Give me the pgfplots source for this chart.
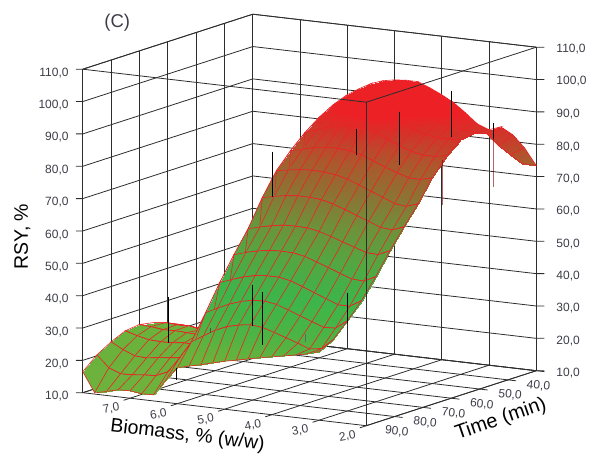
\documentclass[border=0pt]{standalone}
\usepackage{pgfplots}
\pgfplotsset{compat=1.18}
\usepackage{fontspec}
\setmainfont{Liberation Sans}
\definecolor{ticktxt}{RGB}{60,60,72}
\definecolor{gridc}{RGB}{45,45,45}
\definecolor{meshred}{RGB}{235,35,40}
\pgfplotsset{
  rsybox/.style={
    x={(-47.25pt,5.5pt)}, y={(-2.8333pt,-0.9167pt)}, z={(0pt,3.235pt)},
    disabledatascaling,
    anchor=origin, at={(536.3pt,84.3pt)},
    xmin=2, xmax=8, ymin=40, ymax=100, zmin=10, zmax=110,
    clip=false,
    tick align=outside,
    major tick length=7pt,
    every tick/.style={draw=none},
    /pgf/number format/.cd, fixed, fixed zerofill, precision=1, use comma, assume math mode=true,
    /pgfplots/.cd,
  },
  colormap={rsy}{rgb255(10pt)=(110,178,60); rgb255(25pt)=(105,178,60); rgb255(33pt)=(75,180,68); rgb255(42pt)=(60,181,74); rgb255(52pt)=(85,165,65); rgb255(60pt)=(110,145,58); rgb255(68pt)=(140,115,52); rgb255(76pt)=(172,88,45); rgb255(83pt)=(210,52,42); rgb255(87pt)=(237,33,37); rgb255(110pt)=(238,32,36)},
}
\begin{document}
\begin{tikzpicture}
\path[use as bounding box] (0pt,0pt) rectangle (594pt,455pt);

\begin{axis}[
  rsybox,
  3d box=complete,
  axis line style={line width=0.8pt, gridc},
  grid=major,
  grid style={line width=0.8pt, gridc},
  xtick={2,3,4,5,6,7},
  ytick={40,50,60,70,80,90},
  ztick={10,20,...,110},
  xtick pos=left, ytick pos=left, ztick pos=left,
  zticklabel pos=left,
  xticklabel style={font=\fontsize{12}{12}\selectfont, text=ticktxt, rotate=10, xshift=-4pt, yshift=3pt},
  yticklabel style={font=\fontsize{12}{12}\selectfont, text=ticktxt, rotate=-6, xshift=-14.5pt, yshift=-4.5pt},
  zticklabel style={font=\fontsize{12}{12}\selectfont, text=ticktxt, xshift=-4pt},
  title={(C)},
  title style={at={(axis cs:7.27,100,123.7)}, anchor=center, font=\fontsize{18.5}{18.5}\selectfont, text=ticktxt},
  xlabel={Biomass, \% (w/w)},
  ylabel={Time (min)},
  zlabel={RSY, \%},
  every axis x label/.style={at={(axis cs:4.305,124.7,10)}, anchor=center, rotate=-6.8, font=\fontsize{19.5}{19.5}\selectfont},
  every axis y label/.style={at={(axis cs:0.28,81.16,9.5)}, anchor=center, rotate=19, font=\fontsize{20}{20}\selectfont},
  every axis z label/.style={at={(axis cs:9.28,100,56.06)}, anchor=center, rotate=90, font=\fontsize{19.5}{19.5}\selectfont},
  point meta min=10, point meta max=110,
]

% tick stubs
\pgfplotsinvokeforeach{10,20,...,110}{
  \addplot3[gridc, line width=0.8pt] coordinates {(8,100,#1)(8.109,100.654,#1)};
  \addplot3[gridc, line width=0.8pt] coordinates {(2,40,#1)(1.8755,39.25,#1)};
}
\pgfplotsinvokeforeach{2,3,4,5,6,7}{
  \addplot3[gridc, line width=0.8pt] coordinates {(#1,100,10)(#1,102.3,10)};
}
\pgfplotsinvokeforeach{40,50,60,70,80,90}{
  \addplot3[gridc, line width=0.8pt] coordinates {(2,#1,10)(1.83,#1,10)};
}

% small lobe at the back, right of the main sheet
\addplot3[surf, shader=faceted interp, faceted color=meshred, line width=0.6pt, z buffer=default, mesh/rows=2, mesh/cols=5]
coordinates {
(3,40,82.8)(2.75,40,84.1)(2.5,40,82.1)(2.25,40,78.5)(2,40,73.4)

(3,45,83.3)(2.75,45,83.4)(2.5,45,80.1)(2.25,45,77.8)(2,45,75.4)
};

% response surface, rows back to front
\addplot3[surf, shader=faceted interp, faceted color=meshred, line width=0.6pt, z buffer=default, mesh/rows=13, mesh/cols=21]
coordinates {
(8,40,13)(7.75,40,15)(7.5,40,17)(7.25,40,20)(7,40,23)(6.75,40,27)(6.5,40,35)(6.25,40,60)(6,40,88.5)(5.75,40,90.8)(5.5,40,92.8)(5.25,40,94.1)(5,40,94.8)(4.75,40,95.1)(4.5,40,95.1)(4.25,40,93.6)(4,40,91.9)(3.75,40,89.9)(3.5,40,87.2)(3.25,40,84.2)(3,40,82.8)

(8,45,14)(7.75,45,15)(7.5,45,16)(7.25,45,18)(7,45,20)(6.75,45,22)(6.5,45,26)(6.25,45,50)(6,45,86.8)(5.75,45,88.95)(5.5,45,90.95)(5.25,45,92.25)(5,45,92.65)(4.75,45,92.35)(4.5,45,90.8)(4.25,45,88.75)(4,45,86.95)(3.75,45,85.5)(3.5,45,84.5)(3.25,45,83.8)(3,45,83.3)

(8,50,15)(7.75,50,16)(7.5,50,17)(7.25,50,18)(7,50,19)(6.75,50,20)(6.5,50,22)(6.25,50,40)(6,50,84.3)(5.75,50,86.05)(5.5,50,87.75)(5.25,50,88.8)(5,50,89.2)(4.75,50,89.05)(4.5,50,87.9)(4.25,50,86)(4,50,84.1)(3.75,50,82.95)(3.5,50,82.3)(3.25,50,82.35)(3,50,82.5)

(8,55,16.5)(7.75,55,17)(7.5,55,17.5)(7.25,55,18)(7,55,18.5)(6.75,55,19)(6.5,55,20)(6.25,55,30)(6,55,81)(5.75,55,82.45)(5.5,55,83.7)(5.25,55,84.55)(5,55,84.85)(4.75,55,84.65)(4.5,55,83.7)(4.25,55,82.1)(4,55,80.35)(3.75,55,79.1)(3.5,55,78.35)(3.25,55,78.35)(3,55,79)

(8,60,18.7)(7.75,60,18.6)(7.5,60,18.5)(7.25,60,18.5)(7,60,18.5)(6.75,60,18.6)(6.5,60,19)(6.25,60,25)(6,60,76.9)(5.75,60,77.8)(5.5,60,78.75)(5.25,60,79.2)(5,60,79.3)(4.75,60,79)(4.5,60,78.15)(4.25,60,76.7)(4,60,75.2)(3.75,60,73.9)(3.5,60,72.75)(3.25,60,72.65)(3,60,73.6)

(8,65,21.1)(7.75,65,20.8)(7.5,65,20.3)(7.25,65,20)(7,65,19.8)(6.75,65,19.6)(6.5,65,19.5)(6.25,65,22)(6,65,72.1)(5.75,65,72.75)(5.5,65,73.25)(5.25,65,73.55)(5,65,73.4)(4.75,65,73)(4.5,65,72.05)(4.25,65,70.65)(4,65,69.15)(3.75,65,67.7)(3.5,65,66.2)(3.25,65,65.75)(3,65,67)

(8,70,23.1)(7.75,70,23)(7.5,70,22.4)(7.25,70,21.9)(7,70,21.4)(6.75,70,20.9)(6.5,70,20.4)(6.25,70,22.4)(6,70,65.2)(5.75,70,66)(5.5,70,66.65)(5.25,70,67.05)(5,70,67)(4.75,70,66.7)(4.5,70,65.75)(4.25,70,64.5)(4,70,63.05)(3.75,70,61.7)(3.5,70,60.25)(3.25,70,59.9)(3,70,61.3)

(8,75,24.6)(7.75,75,25)(7.5,75,24.8)(7.25,75,24.9)(7,75,24.1)(6.75,75,23.6)(6.5,75,22.8)(6.25,75,25.4)(6,75,57)(5.75,75,58)(5.5,75,58.8)(5.25,75,59.4)(5,75,59.5)(4.75,75,59.4)(4.5,75,58.7)(4.25,75,57.6)(4,75,56.3)(3.75,75,55.1)(3.5,75,53.9)(3.25,75,53.7)(3,75,55.3)

(8,80,25.4)(7.75,80,25.2)(7.5,80,24.7)(7.25,80,24.8)(7,80,24.6)(6.75,80,24.4)(6.5,80,23.9)(6.25,80,25.2)(6,80,50.4)(5.75,80,51.5)(5.5,80,52.4)(5.25,80,53)(5,80,53.2)(4.75,80,53.1)(4.5,80,52.4)(4.25,80,51.1)(4,80,49.8)(3.75,80,48.4)(3.5,80,47.1)(3.25,80,46.9)(3,80,48.7)

(8,85,24.9)(7.75,85,23.8)(7.5,85,23)(7.25,85,22.8)(7,85,22.9)(6.75,85,23.3)(6.5,85,23.1)(6.25,85,25.1)(6,85,43.2)(5.75,85,44.55)(5.5,85,45.8)(5.25,85,46.65)(5,85,47)(4.75,85,47)(4.5,85,46.25)(4.25,85,44.9)(4,85,43.45)(3.75,85,42)(3.5,85,40.6)(3.25,85,40.55)(3,85,42.7)

(8,90,22.9)(7.75,90,20.9)(7.5,90,19.4)(7.25,90,19.2)(7,90,19.7)(6.75,90,20.1)(6.5,90,20.5)(6.25,90,25)(6,90,35.3)(5.75,90,37.1)(5.5,90,38.8)(5.25,90,40.05)(5,90,40.8)(4.75,90,41)(4.5,90,40.4)(4.25,90,39.1)(4,90,37.7)(3.75,90,36.35)(3.5,90,35)(3.25,90,35.2)(3,90,37.9)

(8,95,20.3)(7.75,95,16.7)(7.5,95,15.3)(7.25,95,15.4)(7,95,15.8)(6.75,95,16)(6.5,95,17.6)(6.25,95,22.4)(6,95,27.7)(5.75,95,29.95)(5.5,95,32.1)(5.25,95,33.7)(5,95,34.6)(4.75,95,35.1)(4.5,95,34.7)(4.25,95,33.6)(4,95,32.35)(3.75,95,31.1)(3.5,95,29.75)(3.25,95,30.25)(3,95,33.5)

(8,100,16.5)(7.75,100,10.4)(7.5,100,11.2)(7.25,100,12.2)(7,100,12.3)(6.75,100,11.8)(6.5,100,11.9)(6.25,100,16.7)(6,100,21.1)(5.75,100,22.05)(5.5,100,22.9)(5.25,100,23.9)(5,100,24.8)(4.75,100,25.6)(4.5,100,26.4)(4.25,100,27.2)(4,100,27.9)(3.75,100,28.6)(3.5,100,29.3)(3.25,100,30.1)(3,100,31.2)
};

% residual stems of the measured points
\addplot3[black, line width=0.9pt] coordinates {(7.39,80,35.0)(7.39,80,20.8)};
\addplot3[black, line width=0.9pt] coordinates {(6.62,90,17.2)(6.62,90,13.5)};
\addplot3[black!70, line width=0.9pt] coordinates {(7.1,70,23.1)(7.1,70,21.6)};
\addplot3[black, line width=0.9pt] coordinates {(5.01,90,45.6)(5.01,90,33.0)};
\addplot3[black, line width=0.9pt] coordinates {(4.8,90,43.8)(4.8,90,27.4)};
\addplot3[black!60, line width=0.9pt] coordinates {(3.29,100,36.2)(3.29,100,33.8)};
\addplot3[black, line width=0.9pt] coordinates {(3,90,46.6)(3,90,37.3)};
\addplot3[black, line width=0.9pt] coordinates {(6.39,60,75.9)(6.39,60,62)};
\addplot3[black, line width=0.9pt] coordinates {(4.61,60,86)(4.61,60,78)};
\addplot3[black, line width=0.9pt] coordinates {(4.3,50,89)(4.3,50,72.6)};
\addplot3[black, line width=0.9pt] coordinates {(3.8,40,93.5)(3.8,40,79.2)};
\addplot3[black, line width=0.9pt] coordinates {(2.91,40,85.1)(2.91,40,80)};
\addplot3[red!50!black, opacity=0.6, line width=0.9pt] coordinates {(2.91,40,80)(2.91,40,65.3)};
\addplot3[red!50!black, opacity=0.6, line width=0.9pt] coordinates {(3.99,40,71.8)(3.99,40,57.9)};
\end{axis}

% the right-hand scale repeats the left one
\begin{axis}[
  rsybox,
  axis line style={draw=none},
  xtick=\empty, ytick=\empty,
  ztick={10,20,...,110},
  ztick pos=right,
  zticklabel pos=right,
  zticklabel style={font=\fontsize{12}{12}\selectfont, text=ticktxt, xshift=10pt, yshift=-6pt},
]
\end{axis}
\end{tikzpicture}
\end{document}
